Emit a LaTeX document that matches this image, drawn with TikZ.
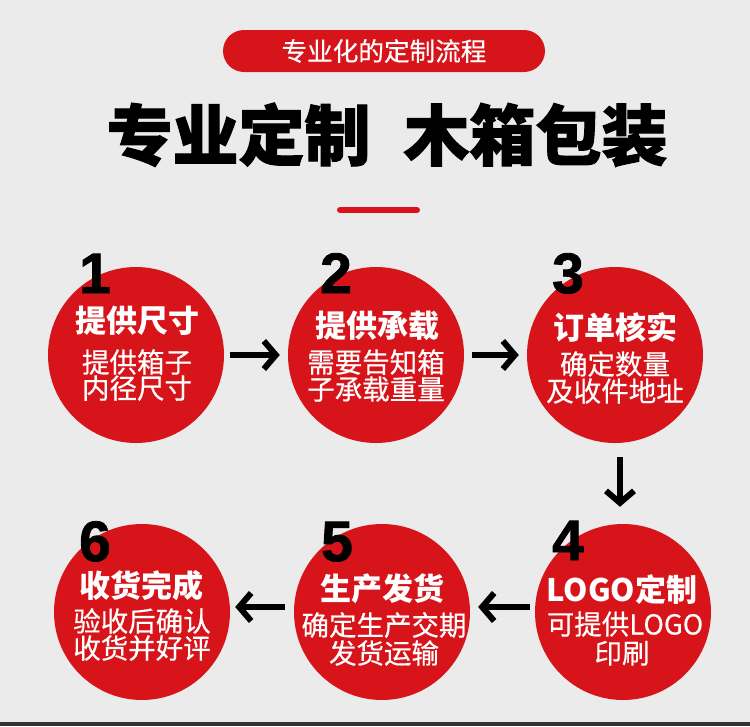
\documentclass[tikz,border=0pt]{standalone}
\usepackage{fontspec}
\newfontfamily\cjk{Noto Sans CJK SC}
\newfontfamily\cjkmed[FakeBold=0.5]{Noto Sans CJK SC}
\newfontfamily\cjkheavy[BoldFeatures={FakeBold=1.5}]{Noto Sans CJK SC}
\newfontfamily\numfont[BoldFeatures={FakeBold=1.5}]{Liberation Sans}
\usetikzlibrary{arrows.meta}
\definecolor{bg}{RGB}{235,235,235}
\definecolor{myred}{RGB}{214,20,26}
\tikzset{
  stepcircle/.style={circle, fill=myred, minimum size=176pt, inner sep=0pt},
  ttl/.style={font=\cjk\bfseries\fontsize{31}{31}\selectfont, text=white, inner sep=0pt, anchor=base},
  sub/.style={font=\cjkmed\fontsize{27.5}{27.5}\selectfont, text=white, inner sep=0pt, anchor=base},
  num/.style={font=\numfont\bfseries\fontsize{57}{57}\selectfont, text=black, inner sep=0pt, anchor=base},
  flow/.style={line width=6pt, -{Straight Barb[length=12pt,width=28pt]}}
}
\begin{document}
\begin{tikzpicture}[x=1pt,y=-1pt]
\useasboundingbox (0,0) rectangle (750,726);
\fill[bg] (0,0) rectangle (750,726);
\fill[black!80] (0,722) rectangle (750,726);
% banner
\node[fill=myred, rounded corners=21pt, minimum width=322pt, minimum height=42pt, inner sep=0pt,
      text=white, font=\cjkmed\fontsize{25.6}{25.6}\selectfont] (banner) at (384,51) {专业化的定制流程};
% title
\node[font=\cjkheavy\bfseries\fontsize{66}{66}\selectfont, anchor=base, inner sep=0pt] (title) at (387,160) {专业定制\hspace{0.5em}木箱包装};
\draw[myred, line width=6pt, line cap=round] (340,210) -- (417,210);
% circles
\node[stepcircle] (c1) at (136,355) {};
\node[stepcircle] (c2) at (376,355) {};
\node[stepcircle] (c3) at (615,355) {};
\node[stepcircle] (c4) at (623,612) {};
\node[stepcircle] (c5) at (382,612) {};
\node[stepcircle] (c6) at (142,612) {};
% numbers
\node[num] (n1) at (95,293) {1};
\node[num] (n2) at (336,293) {2};
\node[num] (n3) at (568,293) {3};
\node[num] (n4) at (568,560) {4};
\node[num] (n5) at (337,561) {5};
\node[num] (n6) at (95,561) {6};
% texts
\node[ttl] (t1) at (137,332) {提供尺寸};
\node[sub] (s1a) at (137,372.5) {提供箱子};
\node[sub] (s1b) at (137,398.5) {内径尺寸};
\node[ttl] (t2) at (377,337) {提供承载};
\node[sub] (s2a) at (376,372.5) {需要告知箱};
\node[sub] (s2b) at (376,399.5) {子承载重量};
\node[ttl] (t3) at (615,339) {订单核实};
\node[sub] (s3a) at (615,374.5) {确定数量};
\node[sub] (s3b) at (615,401.5) {及收件地址};
\node[ttl] (t4) at (622,601) {LOGO定制};
\node[sub] (s4a) at (625,634.5) {可提供LOGO};
\node[sub] (s4b) at (622,663.5) {印刷};
\node[ttl] (t5) at (382,600) {生产发货};
\node[sub] (s5a) at (384,635.5) {确定生产交期};
\node[sub] (s5b) at (384,663.5) {发货运输};
\node[ttl] (t6) at (141,597) {收货完成};
\node[sub] (s6a) at (142,631.5) {验收后确认};
\node[sub] (s6b) at (142,658.5) {收货并好评};
% arrows
\draw[flow, shorten <=6pt, shorten >=8pt] (c1) -- (c2);
\draw[flow, shorten <=8pt, shorten >=8pt] (c2) -- (c3);
\draw[flow, shorten <=14pt, shorten >=17pt] ([xshift=5pt]c3.south) -- ([xshift=-3pt]c4.north);
\draw[flow, shorten <=5pt, shorten >=8pt] ([yshift=5pt]c4.west) -- ([yshift=5pt]c5.east);
\draw[flow, shorten <=9pt, shorten >=5pt] ([yshift=5pt]c5.west) -- ([yshift=5pt]c6.east);
\end{tikzpicture}
\end{document}
